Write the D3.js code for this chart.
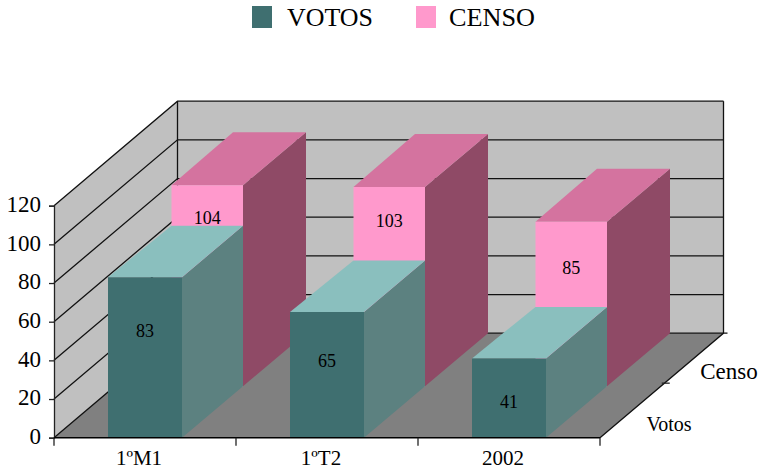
<!DOCTYPE html>
<html><head><meta charset="utf-8">
<script src="https://cdnjs.cloudflare.com/ajax/libs/d3/7.8.5/d3.min.js"></script>
<style>html,body{margin:0;padding:0;background:#fff}svg{display:block}text{font-family:"Liberation Serif",serif;fill:#000}</style>
</head><body><svg id="c" width="761" height="472"></svg>
<script>
const categories = ["1ºM1", "1ºT2", "2002"];
const votos = [83, 65, 41];
const censo = [104, 103, 85];
const valueTicks = [0, 20, 40, 60, 80, 100, 120];
const seriesNames = ["Votos", "Censo"];
const legendNames = ["VOTOS", "CENSO"];

const svg = d3.select("#c");
// oblique projection: value, category band and depth (0 front .. 1 back)
const x = d3.scaleBand().domain(categories).range([54, 600]);
const y = d3.scaleLinear().domain([0, 120]).range([437.7, 205.7]);
const depthX = d3.scaleLinear().domain([0, 1]).range([0, 123.5]);
const depthY = d3.scaleLinear().domain([0, .48, 1]).range([0, -51.5, -104.5]);
const barLeft = d3.scaleLinear().domain([0, .48, 1]).range([54, 117.5, 179]);
const barRight = d3.scaleLinear().domain([0, .48, 1]).range([128, 189, 252]);
// data labels sit at a height that varies with the value, per series
const labelY = [
  d3.scaleLinear().domain([41, 83]).range([402, 331]),
  d3.scaleLinear().domain([85, 104]).range([267.5, 218])
];
const P = (px, v, d) => [px, y(v) + depthY(d)];
const poly = pts => pts.map(p => p.join(",")).join(" ");
const wall = (px, v, d) => [px + depthX(d), y(v) + depthY(d)];

const x0 = x.range()[0], x1 = x.range()[1], vTop = valueTicks[valueTicks.length - 1];
// walls and floor
svg.append("polygon").attr("points", poly([wall(x0,0,1), wall(x0,vTop,1), wall(x1,vTop,1), wall(x1,0,1)])).attr("fill", "#C0C0C0");
svg.append("polygon").attr("points", poly([wall(x0,0,0), wall(x0,vTop,0), wall(x0,vTop,1), wall(x0,0,1)])).attr("fill", "#C0C0C0");
svg.append("polygon").attr("points", poly([wall(x0,0,0), wall(x1,0,0), wall(x1,0,1), wall(x0,0,1)])).attr("fill", "#808080");

const grid = svg.append("g").attr("stroke", "#111").attr("stroke-width", 1.3).attr("fill", "none");
valueTicks.forEach(v => {
  grid.append("polyline").attr("points", poly([wall(x0,v,0), wall(x0,v,1), wall(x1,v,1)]));
});
grid.append("line").attr("x1", wall(x0,0,1)[0]).attr("y1", wall(x0,0,1)[1]).attr("x2", wall(x0,vTop,1)[0]).attr("y2", wall(x0,vTop,1)[1]);
grid.append("line").attr("x1", wall(x1,0,1)[0]).attr("y1", wall(x1,0,1)[1]).attr("x2", wall(x1,vTop,1)[0]).attr("y2", wall(x1,vTop,1)[1]);
grid.append("polyline").attr("points", poly([wall(x1,0,0), wall(x1,0,1), [wall(x1,0,1)[0] + 4, wall(x1,0,1)[1]]]));

// bars
const palettes = [
  {front: "#3F6F70", top: "#8ABFBE", side: "#5C8180"},
  {front: "#FF99CC", top: "#D4739F", side: "#8F4A66"}
];
const drawBar = (c, v, d0, d1, pal, g, ly) => {
  const b = x(c);
  const fl = b + barLeft(d0), fr = b + barRight(d0), bl = b + barLeft(d1), br = b + barRight(d1);
  g.append("polygon").attr("points", poly([P(fr,0,d0), P(fr,v,d0), P(br,v,d1), P(br,0,d1)])).attr("fill", pal.side);
  g.append("polygon").attr("points", poly([P(fl,v,d0), P(bl,v,d1), P(br,v,d1), P(fr,v,d0)])).attr("fill", pal.top);
  g.append("polygon").attr("points", poly([P(fl,0,d0), P(fl,v,d0), P(fr,v,d0), P(fr,0,d0)])).attr("fill", pal.front);
};
const bars = svg.append("g");
categories.forEach((c, i) => drawBar(c, censo[i], .48, 1, palettes[1], bars));
categories.forEach((c, i) => drawBar(c, votos[i], 0, .48, palettes[0], bars));
// data labels on top of every bar face
const labelsFor = (vals, d0, si) => {
  svg.append("g").selectAll("text").data(vals).join("text")
    .attr("x", (v, i) => x(categories[i]) + (barLeft(d0) + barRight(d0)) / 2)
    .attr("y", v => labelY[si](v) + 6)
    .attr("text-anchor", "middle").attr("font-size", 18).text(v => v);
};
labelsFor(censo, .48, 1);
labelsFor(votos, 0, 0);

// axes
const yAxis = d3.axisLeft(y).tickValues(valueTicks).tickSize(5).tickPadding(8);
const gy = svg.append("g").attr("transform", `translate(${x0},0)`).call(yAxis);
gy.selectAll("path,line").attr("stroke", "#222").attr("stroke-width", 1.3);
gy.selectAll("text").attr("font-size", 23).attr("font-family", "Liberation Serif").attr("fill", "#000").attr("dy", "0.25em");

const front = svg.append("g");
front.append("line").attr("x1", x0).attr("x2", x1).attr("y1", y(0)).attr("y2", y(0)).attr("stroke", "#000").attr("stroke-width", 1.5);
const edges = categories.map(c => x(c)).concat([x1]);
front.selectAll("line.t").data(edges).join("line").attr("class", "t")
  .attr("x1", d => d).attr("x2", d => d).attr("y1", y(0)).attr("y2", y(0) + 8).attr("stroke", "#222").attr("stroke-width", 1.3);
front.selectAll("text").data(categories).join("text")
  .attr("x", c => x(c) + 85).attr("y", 465).attr("text-anchor", "middle").attr("font-size", 21).text(c => c);

// depth axis
const mid = wall(x1, 0, .5);
svg.append("line").attr("x1", mid[0]).attr("x2", mid[0] + 8).attr("y1", mid[1] - 1).attr("y2", mid[1] - 1).attr("stroke", "#222").attr("stroke-width", 1.3);
const depthLabels = [[seriesNames[0], 20, 669, 431], [seriesNames[1], 23, 729, 379]];
svg.selectAll("text.d").data(depthLabels).join("text").attr("class", "d")
  .attr("x", d => d[2]).attr("y", d => d[3]).attr("text-anchor", "middle").attr("font-size", d => d[1]).text(d => d[0]);

// legend
const swatchX = [252, 416], labelX = [287, 449];
legendNames.forEach((n, i) => {
  svg.append("rect").attr("x", swatchX[i]).attr("y", 6).attr("width", 20).attr("height", 22).attr("fill", palettes[i].front);
  svg.append("text").attr("x", labelX[i]).attr("y", 26).attr("font-size", 26).attr("textLength", 86).attr("lengthAdjust", "spacingAndGlyphs").text(n);
});
</script></body></html>
